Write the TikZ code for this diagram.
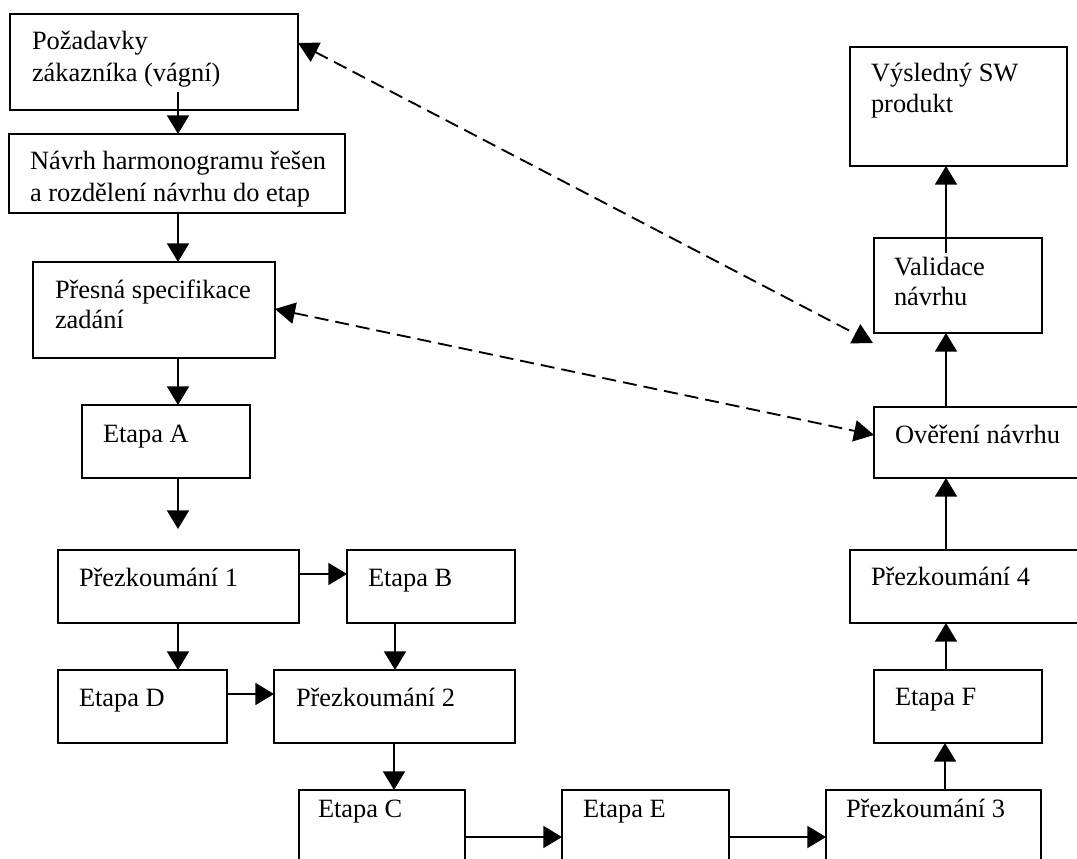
\documentclass[tikz,border=0pt]{standalone}
\usepackage{fontspec}
\setmainfont{Liberation Serif}
\usetikzlibrary{arrows.meta}
\newcommand\bx[5]{\node[box, minimum width={(#4-#2)*0.75pt}, minimum height={(#5-#3)*0.75pt}] (#1) at ({(#2+#4)/2},{(#3+#5)/2}) {};}
\begin{document}
\begin{tikzpicture}[x=0.75pt,y=-0.75pt,
  box/.style={draw, line width=1.4pt, inner sep=0pt, outer sep=0pt, rectangle},
  txt/.style={anchor=base west, inner sep=0pt, outer sep=0pt, font=\fontsize{19.8pt}{24pt}\selectfont},
  arr/.style={line width=1.4pt, -{Triangle[length=14pt,width=16.5pt]}},
  darr/.style={line width=1.4pt, dash pattern=on 10.5pt off 5.25pt, {Triangle[length=15pt,width=16pt]}-{Triangle[length=15pt,width=16pt]}}]
\fill[white] (0,0) rectangle (1077,859);
\useasboundingbox (0,0) rectangle (1077,859);
% boxes
\bx{req}{10}{14}{298}{110}
\bx{harm}{9}{134}{345}{213}
\bx{spec}{33}{262}{275}{358}
\bx{etA}{82}{405}{250}{478}
\bx{pz1}{58}{550}{299}{623}
\bx{etB}{347}{550}{515}{623}
\bx{etD}{58}{670}{227}{743}
\bx{pz2}{274}{670}{515}{743}
\bx{etC}{299}{790}{465}{900}
\bx{etE}{562}{790}{729}{900}
\bx{pz3}{826}{790}{1041}{900}
\bx{etF}{874}{670}{1042}{743}
\bx{pz4}{850}{550}{1110}{623}
\bx{over}{874}{407}{1110}{478}
\bx{val}{874}{238}{1042}{333}
\bx{vys}{850}{47}{1067}{166}
% texts
\node[txt] (treq1) at (32,50) {Požadavky};
\node[txt] (treq2) at (32,82) {zákazníka (vágní)};
\begin{scope}
\clip (9,134) rectangle (326,213);
\node[txt] (tharm1) at (30,170) {Návrh harmonogramu řešen};
\end{scope}
\node[txt] (tharm2) at (30,202) {a rozdělení návrhu do etap};
\node[txt] (tspec1) at (55,298) {Přesná specifikace};
\node[txt] (tspec2) at (55,328) {zadání};
\node[txt] (tetA) at (103,442) {Etapa A};
\node[txt] (tpz1) at (79,586) {Přezkoumání 1};
\node[txt] (tetB) at (368,586) {Etapa B};
\node[txt] (tetD) at (79,706) {Etapa D};
\node[txt] (tpz2) at (296,706) {Přezkoumání 2};
\node[txt] (tetC) at (318,817) {Etapa C};
\node[txt] (tetE) at (583,817) {Etapa E};
\node[txt] (tpz3) at (846,817) {Přezkoumání 3};
\node[txt] (tetF) at (895,705) {Etapa F};
\node[txt] (tpz4) at (871,585) {Přezkoumání 4};
\node[txt] (tover) at (895,443) {Ověření návrhu};
\node[txt] (tval1) at (894,275) {Validace};
\node[txt] (tval2) at (894,305) {návrhu};
\node[txt] (tvys1) at (871,82) {Výsledný SW};
\node[txt] (tvys2) at (871,113) {produkt};
% solid connectors
\coordinate (s1) at (178,92);
\draw[arr] (s1) -- (s1 |- harm.north);
\draw[arr] (178,0 |- harm.south) -- (178,0 |- spec.north);
\draw[arr] (178,0 |- spec.south) -- (178,0 |- etA.north);
\coordinate (freeA) at (178,529);
\draw[arr] (178,0 |- etA.south) -- (freeA);
\draw[arr] (pz1.east |- 0,574) -- (etB.west |- 0,574);
\draw[arr] (178,0 |- pz1.south) -- (178,0 |- etD.north);
\draw[arr] (395,0 |- etB.south) -- (395,0 |- pz2.north);
\draw[arr] (etD.east |- 0,694) -- (pz2.west |- 0,694);
\draw[arr] (394,0 |- pz2.south) -- (394,0 |- etC.north);
\draw[arr] (etC.east |- 0,837) -- (etE.west |- 0,837);
\draw[arr] (etE.east |- 0,837) -- (pz3.west |- 0,837);
\draw[arr] (945,0 |- pz3.north) -- (945,0 |- etF.south);
\draw[arr] (946,0 |- etF.north) -- (946,0 |- pz4.south);
\draw[arr] (946,0 |- pz4.north) -- (946,0 |- over.south);
\draw[arr] (946,0 |- over.north) -- (946,0 |- val.south);
\coordinate (s2) at (946,253);
\draw[arr] (s2) -- (s2 |- vys.south);
% dashed connectors
\coordinate (dfree) at (873,343);
\draw[darr] (req.east |- 0,43) -- (dfree);
\draw[darr] (spec.east |- 0,309) -- (over.west |- 0,435);
\end{tikzpicture}
\end{document}
